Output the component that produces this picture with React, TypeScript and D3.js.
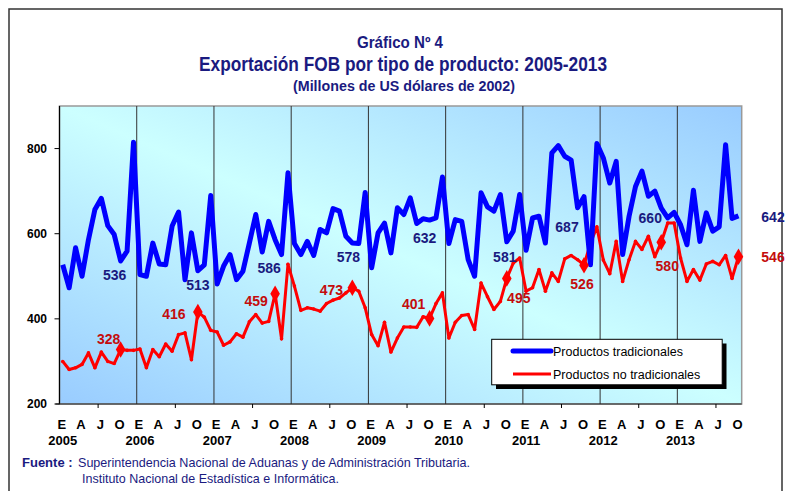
import React from 'react';
import * as d3 from 'd3';

// Monthly FOB exports, Jan 2005 - Oct 2013 (millones de US$ de 2002)
const years = ['2005', '2006', '2007', '2008', '2009', '2010', '2011', '2012', '2013'];
const monthTicks = ['E', 'A', 'J', 'O'];

const tradicionales = [
  527, 473, 567, 500, 586, 657, 683, 619, 598, 536, 559, 815,
  504, 500, 578, 529, 527, 618, 651, 492, 602, 513, 527, 690,
  482, 524, 551, 492, 512, 578, 645, 557, 629, 586, 551, 743,
  577, 551, 582, 549, 610, 602, 659, 653, 594, 578, 577, 697,
  520, 602, 625, 555, 661, 645, 684, 624, 635, 632, 637, 733,
  577, 633, 629, 539, 500, 696, 663, 653, 692, 581, 606, 692,
  561, 637, 641, 578, 790, 807, 782, 773, 661, 687, 527, 812,
  778, 719, 770, 551, 641, 711, 747, 688, 700, 660, 637, 650,
  621, 574, 702, 582, 649, 606, 616, 809, 636, 642
];

const noTradicionales = [
  300, 281, 285, 293, 320, 285, 322, 300, 295, 328, 326, 326,
  329, 285, 328, 311, 341, 324, 363, 367, 304, 416, 404, 373,
  369, 338, 346, 365, 357, 393, 410, 390, 394, 459, 353, 528,
  477, 420, 426, 423, 418, 436, 444, 449, 461, 473, 465, 426,
  363, 337, 392, 322, 355, 381, 381, 380, 405, 401, 436, 461,
  355, 392, 408, 410, 375, 484, 452, 422, 441, 495, 531, 543,
  465, 473, 516, 465, 508, 488, 541, 549, 539, 526, 578, 616,
  538, 506, 582, 488, 539, 582, 563, 594, 546, 580, 625, 625,
  543, 488, 516, 491, 529, 535, 527, 549, 495, 546
];

// October of every year gets a label
const octIdx = years.map((_, i) => i * 12 + 9);
const yTicks = [200, 400, 600, 800];

const W = 791;
const H = 491;
const plot = { left: 59.5, right: 741.7, top: 106, bottom: 404 };

// label offsets from the point (px)
const blueOff: [number, number][] = [
  [-6, 14], [0, 14], [-6, 28], [-4, 14], [-5, 18], [-2, 15], [-17, 30], [-11, 10]
];
const redOff: [number, number][] = [
  [-12, -10], [-24, 2], [-19, 7], [-21, 2], [-16, -14], [12, 20], [-2, 19], [6, 24]
];

const navy = '#1a1a80';
const darkRed = '#c40c0c';
const narrow = '"Liberation Sans Narrow", "Arial Narrow", "Liberation Sans", sans-serif';
const sans = '"Liberation Sans", Arial, sans-serif';

const App: React.FC = () => {
  const idx = d3.range(tradicionales.length);
  const x = d3.scaleBand<number>().domain(idx).range([plot.left, plot.right]);
  const cx = (i: number) => (x(i) || 0) + x.bandwidth() / 2;
  const y = d3.scaleLinear().domain([200, 900]).range([plot.bottom, plot.top]);

  const line = d3.line<number>().x((_, i) => cx(i)).y(d => y(d));
  const diamond = d3.symbol().type(d3.symbolDiamond).size(80)();

  return (
    <svg width={W} height={H} style={{ position: 'absolute', left: 0, top: 0 }}>
      <defs>
        <linearGradient id="bg" x1="0" y1="1" x2="1" y2="0">
          <stop offset="0" stopColor="#99ccff" />
          <stop offset="0.5" stopColor="#ccffff" />
          <stop offset="1" stopColor="#99ccff" />
        </linearGradient>
      </defs>
      <rect x={0} y={0} width={W} height={H} fill="#fff" />
      <rect x={9} y={9} width={773} height={500} fill="none" stroke="#333" strokeWidth={1.5} />

      {/* titles */}
      <text x={400} y={48} textAnchor="middle" fontFamily={narrow} fontWeight="bold" fontSize={16} fill={navy}
        textLength={86} lengthAdjust="spacingAndGlyphs">Gráfico Nº 4</text>
      <text x={403} y={71} textAnchor="middle" fontFamily={narrow} fontWeight="bold" fontSize={21} fill={navy}
        textLength={408} lengthAdjust="spacingAndGlyphs">Exportación FOB por tipo de producto: 2005-2013</text>
      <text x={404} y={91} textAnchor="middle" fontFamily={narrow} fontWeight="bold" fontSize={14} fill={navy}
        textLength={222} lengthAdjust="spacingAndGlyphs">(Millones de US dólares de 2002)</text>

      {/* plot background */}
      <rect x={plot.left} y={plot.top} width={plot.right - plot.left} height={plot.bottom - plot.top}
        fill="url(#bg)" stroke="#999" strokeWidth={1.5} />

      {/* year separators */}
      {years.slice(1).map((yr, k) => {
        const xx = x((k + 1) * 12) || 0;
        return <line key={yr} x1={xx} x2={xx} y1={plot.top} y2={plot.bottom} stroke="#333" strokeWidth={1} />;
      })}

      {/* axes */}
      <line x1={plot.left} x2={plot.left} y1={plot.top} y2={plot.bottom} stroke="#000" strokeWidth={1.2} />
      <line x1={plot.left - 4} x2={plot.right} y1={plot.bottom} y2={plot.bottom} stroke="#222" strokeWidth={1.2} />
      {yTicks.map(t => (
        <g key={t}>
          <line x1={plot.left - 5} x2={plot.left} y1={y(t)} y2={y(t)} stroke="#000" />
          <text x={47} y={y(t)} dy="0.35em" textAnchor="end" fontFamily={sans} fontWeight="bold" fontSize={12} fill="#000">{t}</text>
        </g>
      ))}
      {years.map((yr, k) => {
        const xx = x(k * 12 + 6);
        if (xx === undefined) return null;
        return <line key={'t' + yr} x1={xx} x2={xx} y1={plot.bottom} y2={plot.bottom + 4} stroke="#000" />;
      })}
      {idx.filter(i => i % 3 === 0).map(i => (
        <text key={'m' + i} x={cx(i) - 1} y={429} textAnchor="middle" fontFamily={narrow} fontWeight="bold" fontSize={13} fill="#000">
          {monthTicks[(i % 12) / 3]}
        </text>
      ))}
      {years.map((yr, k) => (
        <text key={'y' + yr} x={cx(k * 12)} y={445} textAnchor="middle" fontFamily={narrow} fontWeight="bold" fontSize={13} fill="#000">{yr}</text>
      ))}

      {/* series */}
      <path d={line(noTradicionales) || ''} fill="none" stroke="#ff0000" strokeWidth={3} strokeLinejoin="round" />
      {noTradicionales.map((v, i) => (
        <circle key={'r' + i} cx={cx(i)} cy={y(v)} r={1.8} fill="#ff0000" />
      ))}
      <path d={line(tradicionales) || ''} fill="none" stroke="#0000ff" strokeWidth={5} strokeLinejoin="round" />
      {octIdx.map(i => (
        <path key={'d' + i} d={diamond || ''} transform={`translate(${cx(i)},${y(noTradicionales[i])})`} fill="#ff0000" />
      ))}

      {/* labels */}
      {octIdx.map((i, k) => {
        const last = k === octIdx.length - 1;
        const bx = last ? 773 : cx(i) + blueOff[k][0];
        const by = last ? y(tradicionales[i]) + 1 : y(tradicionales[i]) + blueOff[k][1];
        const rx = last ? 773 : cx(i) + redOff[k][0];
        const ry = last ? y(noTradicionales[i]) : y(noTradicionales[i]) + redOff[k][1];
        return (
          <g key={'l' + i} fontFamily={sans} fontWeight="bold" fontSize={14} textAnchor="middle">
            <text x={bx} y={by} dy="0.35em" fill={navy}>{tradicionales[i]}</text>
            <text x={rx} y={ry} dy="0.35em" fill={darkRed}>{noTradicionales[i]}</text>
          </g>
        );
      })}

      {/* legend */}
      <rect x={496} y={343.5} width={230.5} height={45.5} fill="#000" />
      <rect x={491.7} y={339.3} width={230.5} height={45.5} fill="#fff" stroke="#000" strokeWidth={1} />
      <line x1={513} x2={551} y1={351} y2={351} stroke="#0000ff" strokeWidth={5} strokeLinecap="round" />
      <text x={553} y={355.5} fontFamily={sans} fontSize={12.5} fill="#000">Productos tradicionales</text>
      <line x1={513} x2={551} y1={374} y2={374} stroke="#ff0000" strokeWidth={3} />
      <text x={553} y={378.5} fontFamily={sans} fontSize={12.5} fill="#000">Productos no tradicionales</text>

      {/* source */}
      <text x={22} y={467} fontFamily={narrow} fontWeight="bold" fontSize={13} fill={navy}>Fuente :</text>
      <text x={78} y={467} fontFamily={narrow} fontSize={13} fill={navy}
        textLength={392} lengthAdjust="spacingAndGlyphs">Superintendencia Nacional de Aduanas y de Administración Tributaria.</text>
      <text x={82} y={483} fontFamily={narrow} fontSize={13} fill={navy}
        textLength={257} lengthAdjust="spacingAndGlyphs">Instituto Nacional de Estadística e Informática.</text>
    </svg>
  );
};

export default App;
